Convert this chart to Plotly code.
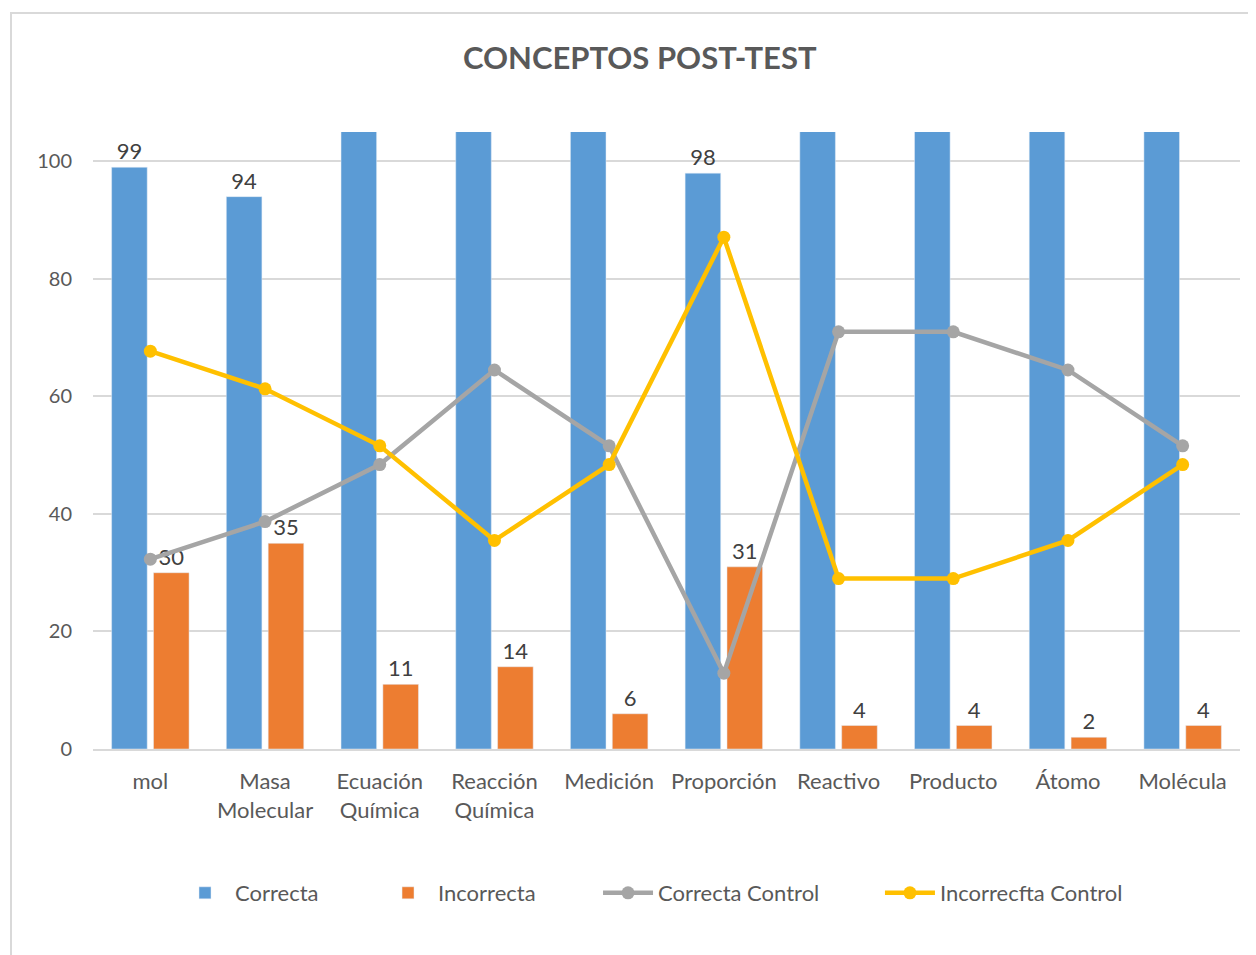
import plotly.graph_objects as go

CATEGORIES = ["mol", "Masa<br>Molecular", "Ecuación<br>Química", "Reacción<br>Química", "Medición",
              "Proporción", "Reactivo", "Producto", "Átomo", "Molécula"]
CORRECTA = [99, 94, 118, 115, 123, 98, 125, 125, 127, 125]
INCORRECTA = [30, 35, 11, 14, 6, 31, 4, 4, 2, 4]
CORRECTA_CONTROL = [32.3, 38.7, 48.4, 64.5, 51.6, 12.9, 71.0, 71.0, 64.5, 51.6]
INCORRECTA_CONTROL = [67.7, 61.3, 51.6, 35.5, 48.4, 87.1, 29.0, 29.0, 35.5, 48.4]

Y_MAX = 105
BLUE = "#5B9BD5"
ORANGE = "#ED7D31"
GRAY = "#A5A5A5"
YELLOW = "#FFC000"
TEXT_COLOR = "#595959"
GRID_COLOR = "#D9D9D9"
FONT = "Lato, Open Sans, sans-serif"


def _labels(values):
    return [str(v) if v <= Y_MAX else "" for v in values]


def _legend(x):
    return dict(orientation="h", x=x, xanchor="left", y=-0.2334, yanchor="middle",
                font=dict(size=22, color=TEXT_COLOR), bgcolor="rgba(0,0,0,0)", itemwidth=50)


fig = go.Figure()
fig.add_trace(go.Bar(
    x=CATEGORIES, y=CORRECTA, name="Correcta", marker_color=BLUE, legend="legend",
    text=_labels(CORRECTA), textposition="outside", cliponaxis=False,
    textfont=dict(size=22, color="#404040"),
))
fig.add_trace(go.Bar(
    x=CATEGORIES, y=INCORRECTA, name="Incorrecta", marker_color=ORANGE, legend="legend2",
    text=_labels(INCORRECTA), textposition="outside", cliponaxis=False,
    textfont=dict(size=22, color="#404040"),
))
fig.add_trace(go.Scatter(
    x=CATEGORIES, y=CORRECTA_CONTROL, name="Correcta Control", mode="lines+markers", legend="legend3",
    line=dict(color=GRAY, width=4.5), marker=dict(size=13, color=GRAY),
))
fig.add_trace(go.Scatter(
    x=CATEGORIES, y=INCORRECTA_CONTROL, name="Incorrecfta Control", mode="lines+markers", legend="legend4",
    line=dict(color=YELLOW, width=4.5), marker=dict(size=13, color=YELLOW),
))

fig.update_layout(
    width=1256,
    height=955,
    margin=dict(l=85, r=24, t=124, b=214),
    paper_bgcolor="white",
    plot_bgcolor="white",
    font=dict(family=FONT, size=22, color=TEXT_COLOR),
    title=dict(text="<b>CONCEPTOS POST-TEST</b>", x=0.503, xanchor="center", y=0.9476, yanchor="middle",
               font=dict(size=31, color=TEXT_COLOR)),
    barmode="group",
    bargap=0.27,
    bargroupgap=0.15,
    showlegend=True,
    legend=_legend(0.0715),
    legend2=_legend(0.2485),
    legend3=_legend(0.4403),
    legend4=_legend(0.6861),
    xaxis=dict(range=[-0.5, len(CATEGORIES) - 0.5], showgrid=False, showline=True, linecolor=GRID_COLOR,
               linewidth=2, ticks="", automargin=False, ticklabelstandoff=12,
               tickfont=dict(size=22, color=TEXT_COLOR)),
    yaxis=dict(range=[0, Y_MAX], tickvals=[0, 20, 40, 60, 80, 100], gridcolor=GRID_COLOR, gridwidth=2,
               zeroline=False, showline=False, ticks="", ticklabelstandoff=20, automargin=False,
               tickfont=dict(size=20, color=TEXT_COLOR)),
    shapes=[dict(type="rect", xref="paper", yref="paper", x0=-0.0715, x1=1.05, y0=-0.36, y1=1.1929,
                 line=dict(color=GRID_COLOR, width=2), layer="below")],
)

fig.write_html("out.html")
